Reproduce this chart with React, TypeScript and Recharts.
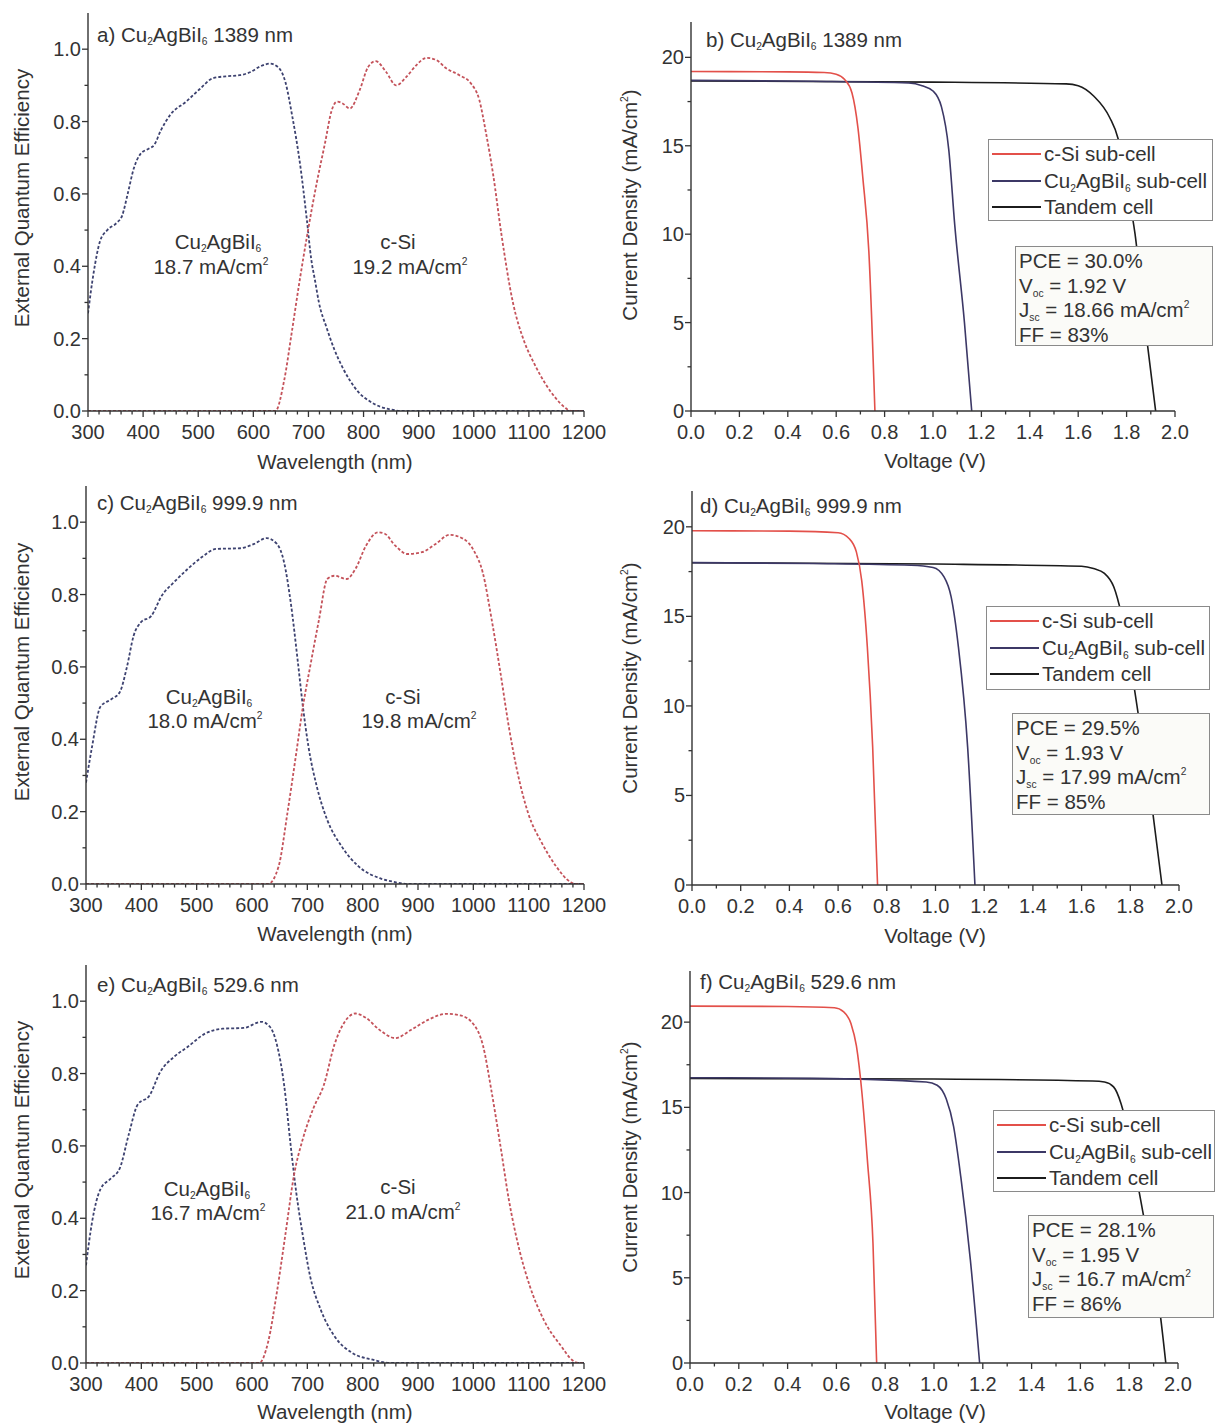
import React from "react";
import { LineChart, Line, XAxis, YAxis, Legend } from "recharts";

const FONT = '"Liberation Sans", Arial, Helvetica, sans-serif';
const TEXT = "#333";
const AXIS = "#333";
const FS = 20.5;
const TICK_FS = 20;

const EQE_BLUE = "#3d4270";
const EQE_RED = "#c4525a";
const CSI_RED = "#e3504a";
const CU_NAVY = "#3c3866";
const TANDEM = "#1c1c1c";

// ---- tick values ----
const wlMajor = [300, 400, 500, 600, 700, 800, 900, 1000, 1100, 1200];
const eqeMajor = [0, 0.2, 0.4, 0.6, 0.8, 1.0];
const vMajor = [0, 0.2, 0.4, 0.6, 0.8, 1.0, 1.2, 1.4, 1.6, 1.8, 2.0];
const jMajor = [0, 5, 10, 15, 20];

// ---- a) EQE, Cu2AgBiI6 1389 nm ----
const aCuWl = [300, 310, 322, 335, 352, 362, 372, 383, 395, 410, 420, 432, 450, 478, 503, 527, 550, 575, 595, 612, 630, 645, 658, 670, 685, 697, 705, 712, 719, 733, 747, 762, 775, 792, 810, 830, 850, 870, 1200];
const aCuEqe = [0.27, 0.38, 0.47, 0.5, 0.52, 0.54, 0.6, 0.67, 0.71, 0.725, 0.735, 0.775, 0.82, 0.855, 0.89, 0.92, 0.925, 0.928, 0.937, 0.952, 0.96, 0.95, 0.91, 0.82, 0.68, 0.53, 0.42, 0.36, 0.3, 0.23, 0.17, 0.12, 0.085, 0.05, 0.028, 0.012, 0.004, 0, 0];
const aSiWl = [300, 640, 656, 670, 684, 697, 715, 730, 742, 752, 762, 775, 793, 808, 822, 841, 859, 878, 896, 914, 932, 950, 974, 995, 1010, 1022, 1035, 1050, 1071, 1092, 1110, 1130, 1149, 1165, 1177, 1200];
const aSiEqe = [0, 0, 0.085, 0.22, 0.36, 0.48, 0.63, 0.74, 0.83, 0.855, 0.85, 0.836, 0.887, 0.95, 0.967, 0.937, 0.9, 0.924, 0.956, 0.976, 0.97, 0.947, 0.928, 0.905, 0.86, 0.77, 0.655, 0.49, 0.3, 0.19, 0.13, 0.075, 0.035, 0.01, 0, 0];

// ---- c) EQE, Cu2AgBiI6 999.9 nm ----
const cCuWl = [300, 311, 326, 345, 361, 374, 386, 399, 418, 437, 459, 484, 509, 535, 579, 604, 626, 645, 658, 670, 683, 692, 702, 717, 736, 762, 793, 831, 856, 881, 1200];
const cCuEqe = [0.28, 0.38, 0.49, 0.51, 0.53, 0.6, 0.686, 0.723, 0.741, 0.797, 0.834, 0.871, 0.903, 0.926, 0.928, 0.94, 0.956, 0.94, 0.889, 0.778, 0.612, 0.49, 0.38, 0.27, 0.177, 0.104, 0.048, 0.016, 0.006, 0, 0];
const cSiWl = [300, 629, 648, 664, 680, 692, 705, 721, 736, 749, 771, 787, 806, 828, 840, 859, 881, 907, 932, 957, 982, 1001, 1017, 1033, 1049, 1064, 1080, 1099, 1124, 1150, 1175, 1184, 1200];
const cSiEqe = [0, 0, 0.048, 0.196, 0.362, 0.49, 0.6, 0.73, 0.843, 0.852, 0.843, 0.871, 0.935, 0.972, 0.968, 0.935, 0.912, 0.917, 0.94, 0.965, 0.954, 0.921, 0.861, 0.732, 0.584, 0.436, 0.307, 0.196, 0.113, 0.048, 0.006, 0, 0];

// ---- e) EQE, Cu2AgBiI6 529.6 nm ----
const eCuWl = [300, 311, 326, 345, 361, 377, 393, 415, 434, 459, 484, 516, 547, 585, 617, 632, 645, 658, 670, 680, 692, 705, 724, 749, 781, 818, 850, 1200];
const eCuEqe = [0.27, 0.39, 0.48, 0.51, 0.538, 0.63, 0.713, 0.74, 0.804, 0.846, 0.874, 0.911, 0.924, 0.926, 0.943, 0.93, 0.88, 0.769, 0.6, 0.471, 0.351, 0.24, 0.148, 0.074, 0.028, 0.009, 0, 0];
const eSiWl = [300, 613, 629, 645, 661, 676, 692, 711, 730, 749, 768, 787, 806, 831, 859, 888, 919, 951, 976, 1001, 1017, 1033, 1049, 1064, 1083, 1102, 1127, 1159, 1178, 1190, 1200];
const eSiEqe = [0, 0, 0.057, 0.196, 0.362, 0.52, 0.62, 0.704, 0.769, 0.88, 0.944, 0.966, 0.954, 0.92, 0.898, 0.921, 0.949, 0.965, 0.961, 0.935, 0.88, 0.75, 0.6, 0.453, 0.314, 0.213, 0.12, 0.046, 0.009, 0, 0];

// ---- b) J-V, 1389 nm ----
const bSiV = [0, 0.4, 0.55, 0.6, 0.635, 0.665, 0.69, 0.71, 0.735, 0.76];
const bSiJ = [19.2, 19.18, 19.14, 19.05, 18.75, 18.0, 16.0, 13.2, 9.0, 0];
const bCuV = [0, 0.5, 0.9, 0.955, 1.0, 1.035, 1.065, 1.09, 1.13, 1.16];
const bCuJ = [18.7, 18.65, 18.55, 18.4, 18.1, 17.2, 14.8, 10.5, 5.0, 0];
const bTaV = [0, 1.0, 1.55, 1.6, 1.665, 1.73, 1.765, 1.8, 1.835, 1.875, 1.92];
const bTaJ = [18.66, 18.6, 18.5, 18.4, 17.8, 16.6, 15.4, 12.8, 10.0, 5.0, 0];

// ---- d) J-V, 999.9 nm ----
const dSiV = [0, 0.4, 0.6, 0.645, 0.675, 0.697, 0.72, 0.742, 0.762];
const dSiJ = [19.78, 19.76, 19.67, 19.35, 18.6, 17.0, 13.3, 7.7, 0];
const dCuV = [0, 0.5, 0.9, 0.99, 1.035, 1.064, 1.094, 1.132, 1.162];
const dCuJ = [18.0, 17.95, 17.85, 17.73, 17.2, 16.1, 13.3, 7.7, 0];
const dTaV = [0, 1.0, 1.6, 1.649, 1.694, 1.732, 1.762, 1.8, 1.844, 1.889, 1.93];
const dTaJ = [17.99, 17.92, 17.8, 17.67, 17.4, 16.65, 15.2, 12.4, 8.5, 4.4, 0];

// ---- f) J-V, 529.6 nm ----
const fSiV = [0, 0.4, 0.592, 0.63, 0.66, 0.682, 0.705, 0.727, 0.75, 0.765];
const fSiJ = [20.94, 20.92, 20.84, 20.6, 19.9, 18.6, 15.8, 11.9, 7.0, 0];
const fCuV = [0, 0.5, 0.968, 1.013, 1.05, 1.08, 1.11, 1.149, 1.187];
const fCuJ = [16.74, 16.7, 16.49, 16.3, 15.5, 13.9, 10.9, 6.05, 0];
const fTaV = [0, 1.0, 1.65, 1.699, 1.736, 1.767, 1.797, 1.842, 1.887, 1.925, 1.95];
const fTaJ = [16.7, 16.66, 16.55, 16.49, 16.2, 15.2, 13.46, 9.95, 6.4, 3.1, 0];

const zip = (xs: number[], ys: number[]) => xs.map((x, i) => ({ x, y: ys[i] }));

// major ticks plus n-1 minor ticks in each gap
function withMinors(major: number[], n: number) {
  const out: number[] = [];
  for (let i = 0; i < major.length - 1; i++) {
    for (let k = 0; k < n; k++) out.push(+(major[i] + ((major[i + 1] - major[i]) * k) / n).toFixed(4));
  }
  out.push(major[major.length - 1]);
  return out;
}
const isMajor = (v: number, major: number[]) => major.some((m) => Math.abs(m - v) < 1e-6);

const Sub = ({ c }: { c: string }) => (
  <span style={{ fontSize: "0.5em", verticalAlign: "-0.35em", lineHeight: 0 }}>{c}</span>
);
const Sup = ({ c }: { c: string }) => (
  <span style={{ fontSize: "0.5em", verticalAlign: "0.9em", lineHeight: 0 }}>{c}</span>
);
const CuName = () => (
  <>
    Cu<Sub c="2" />AgBiI<Sub c="6" />
  </>
);
const MAcm = () => (
  <>
    mA/cm<Sup c="2" />
  </>
);

const XTick = (p: any) => {
  const maj = isMajor(p.payload.value, p.major);
  return (
    <g>
      <line x1={p.x} y1={p.y} x2={p.x} y2={p.y + (maj ? 6 : 3.5)} stroke={AXIS} strokeWidth={1.3} />
      {maj && (
        <text x={p.x} y={p.y + 28} textAnchor="middle" fontSize={TICK_FS} fill={TEXT} fontFamily={FONT}>
          {p.fmt(p.payload.value)}
        </text>
      )}
    </g>
  );
};

const YTick = (p: any) => {
  const maj = isMajor(p.payload.value, p.major);
  return (
    <g>
      <line x1={p.x} y1={p.y} x2={p.x - (maj ? 6 : 3.5)} y2={p.y} stroke={AXIS} strokeWidth={1.3} />
      {maj && (
        <text x={p.x - 7} y={p.y + 7} textAnchor="end" fontSize={TICK_FS} fill={TEXT} fontFamily={FONT}>
          {p.fmt(p.payload.value)}
        </text>
      )}
    </g>
  );
};

type Series = { name: string; pts: { x: number; y: number }[]; color: string; dash?: string; width: number };
type Box = { left: number; top: number; w: number; h: number };

const LegendBox = ({ box, items }: { box: Box; items: { color: string; label: React.ReactNode }[] }) => (
  <div
    style={{
      width: box.w,
      height: box.h,
      boxSizing: "border-box",
      border: "1px solid #8a8a8a",
      background: "#fff",
      paddingTop: 1,
      fontFamily: FONT,
      fontSize: FS,
      color: TEXT,
      overflow: "hidden",
    }}
  >
    {items.map((it, i) => (
      <div key={i} style={{ display: "flex", alignItems: "center", height: 26.5, whiteSpace: "nowrap" }}>
        <svg width={52} height={4} style={{ marginLeft: 3, flexShrink: 0 }}>
          <line x1={0} y1={2} x2={49} y2={2} stroke={it.color} strokeWidth={2} />
        </svg>
        <span>{it.label}</span>
      </div>
    ))}
  </div>
);

function Panel(props: {
  x0: number; x1: number; y0: number; y1: number;
  xDomain: [number, number]; yDomain: [number, number];
  xTicks: number[]; xMajor: number[]; yTicks: number[]; yMajor: number[];
  fx: (v: number) => string; fy: (v: number) => string;
  series: Series[]; rightPad: number; legend?: Box;
}) {
  const { x0, x1, y0, y1, rightPad, legend } = props;
  const ml = 90;
  const mt = 10;
  const xh = 60;
  const w = x1 - x0 + ml + rightPad;
  const h = y1 - y0 + mt + xh;
  const cl = x0 - ml;
  const ct = y0 - mt;
  return (
    <div style={{ position: "absolute", left: cl, top: ct }}>
      <LineChart width={w} height={h} margin={{ top: mt, right: rightPad, bottom: 0, left: 0 }}>
        <XAxis
          type="number"
          dataKey="x"
          domain={props.xDomain}
          allowDataOverflow
          ticks={props.xTicks}
          interval={0}
          height={xh}
          tickSize={0}
          tickMargin={0}
          tickLine={false}
          axisLine={{ stroke: AXIS, strokeWidth: 1.4 }}
          tick={(p: any) => <XTick {...p} major={props.xMajor} fmt={props.fx} />}
        />
        <YAxis
          type="number"
          domain={props.yDomain}
          allowDataOverflow
          ticks={props.yTicks}
          interval={0}
          width={ml}
          tickSize={0}
          tickMargin={0}
          tickLine={false}
          axisLine={{ stroke: AXIS, strokeWidth: 1.4 }}
          tick={(p: any) => <YTick {...p} major={props.yMajor} fmt={props.fy} />}
        />
        {props.series.map((s) => (
          <Line
            key={s.name}
            data={s.pts}
            dataKey="y"
            name={s.name}
            type="monotone"
            stroke={s.color}
            strokeWidth={s.width}
            strokeDasharray={s.dash}
            dot={false}
            activeDot={false}
            isAnimationActive={false}
          />
        ))}
        {legend && (
          <Legend
            layout="vertical"
            align="center"
            verticalAlign="middle"
            wrapperStyle={{ left: legend.left - cl, top: legend.top - ct, width: legend.w, height: legend.h }}
            content={() => (
              <LegendBox
                box={legend}
                items={[
                  { color: CSI_RED, label: "c-Si sub-cell" },
                  { color: CU_NAVY, label: (<><CuName /> sub-cell</>) },
                  { color: TANDEM, label: "Tandem cell" },
                ]}
              />
            )}
          />
        )}
      </LineChart>
    </div>
  );
}

const At = ({ x, y, children, center = false, rotate = false, size = FS }: any) => (
  <div
    style={{
      position: "absolute",
      left: x,
      top: y,
      transform: `translate(${center ? "-50%" : "0"}, -50%)${rotate ? " rotate(-90deg)" : ""}`,
      whiteSpace: "nowrap",
      fontFamily: FONT,
      fontSize: size,
      color: TEXT,
      lineHeight: 1,
    }}
  >
    {children}
  </div>
);

const StatsBox = ({ box, lines }: { box: Box; lines: React.ReactNode[] }) => (
  <div
    style={{
      position: "absolute",
      left: box.left,
      top: box.top,
      width: box.w,
      height: box.h,
      boxSizing: "border-box",
      border: "1px solid #8a8a8a",
      background: "#fbfbf8",
      paddingTop: 2,
      paddingLeft: 3,
      fontFamily: FONT,
      fontSize: FS,
      color: TEXT,
      overflow: "hidden",
    }}
  >
    {lines.map((l, i) => (
      <div key={i} style={{ height: 24.6, lineHeight: "24.6px", whiteSpace: "nowrap" }}>
        {l}
      </div>
    ))}
  </div>
);

const wlTicks = withMinors(wlMajor, 5);
const eqeTicks = withMinors(eqeMajor, 2);
const vTicks = withMinors(vMajor, 2);
const jTicks = withMinors(jMajor, 2);
const f0 = (v: number) => String(Math.round(v));
const f1 = (v: number) => v.toFixed(1);

function EqePanel({ x0, y0, y1, cu, si }: { x0: number; y0: number; y1: number; cu: any[]; si: any[] }) {
  return (
    <Panel
      x0={x0} x1={584} y0={y0} y1={y1}
      xDomain={[300, 1200]} yDomain={[0, 1.1]}
      xTicks={wlTicks} xMajor={wlMajor} yTicks={eqeTicks} yMajor={eqeMajor}
      fx={f0} fy={f1} rightPad={36}
      series={[
        { name: "Cu2AgBiI6", pts: cu, color: EQE_BLUE, dash: "3 2", width: 1.8 },
        { name: "c-Si", pts: si, color: EQE_RED, dash: "3 2", width: 1.8 },
      ]}
    />
  );
}

function JvPanel(p: { x0: number; x1: number; y0: number; y1: number; ymax: number; si: any[]; cu: any[]; ta: any[]; legend: Box }) {
  return (
    <Panel
      x0={p.x0} x1={p.x1} y0={p.y0} y1={p.y1}
      xDomain={[0, 2]} yDomain={[0, p.ymax]}
      xTicks={vTicks} xMajor={vMajor} yTicks={jTicks} yMajor={jMajor}
      fx={f1} fy={f0} rightPad={1215 - p.x1}
      legend={p.legend}
      series={[
        { name: "Tandem cell", pts: p.ta, color: TANDEM, width: 1.6 },
        { name: "Cu2AgBiI6 sub-cell", pts: p.cu, color: CU_NAVY, width: 1.6 },
        { name: "c-Si sub-cell", pts: p.si, color: CSI_RED, width: 1.6 },
      ]}
    />
  );
}

const Title = ({ x, y, tag, wl }: { x: number; y: number; tag: string; wl: string }) => (
  <At x={x} y={y}>
    {tag}) <CuName /> {wl} nm
  </At>
);

const stats = (pce: string, voc: string, jsc: string, ff: string) => [
  <>PCE = {pce}%</>,
  <>V<Sub c="oc" /> = {voc} V</>,
  <>J<Sub c="sc" /> = {jsc} <MAcm /></>,
  <>FF = {ff}%</>,
];

export default function App() {
  return (
    <div style={{ position: "absolute", left: 0, top: 0, width: 1215, height: 1425, background: "#fff", overflow: "hidden" }}>
      <EqePanel x0={88} y0={13} y1={411} cu={zip(aCuWl, aCuEqe)} si={zip(aSiWl, aSiEqe)} />
      <EqePanel x0={86} y0={486} y1={884} cu={zip(cCuWl, cCuEqe)} si={zip(cSiWl, cSiEqe)} />
      <EqePanel x0={86} y0={965} y1={1363} cu={zip(eCuWl, eCuEqe)} si={zip(eSiWl, eSiEqe)} />

      <JvPanel x0={691} x1={1175} y0={22} y1={411} ymax={22}
        si={zip(bSiV, bSiJ)} cu={zip(bCuV, bCuJ)} ta={zip(bTaV, bTaJ)}
        legend={{ left: 988, top: 139, w: 225, h: 82 }} />
      <JvPanel x0={692} x1={1179} y0={491} y1={885} ymax={22}
        si={zip(dSiV, dSiJ)} cu={zip(dCuV, dCuJ)} ta={zip(dTaV, dTaJ)}
        legend={{ left: 986, top: 606, w: 224, h: 84 }} />
      <JvPanel x0={690} x1={1178} y0={971} y1={1363} ymax={23}
        si={zip(fSiV, fSiJ)} cu={zip(fCuV, fCuJ)} ta={zip(fTaV, fTaJ)}
        legend={{ left: 993, top: 1110, w: 222, h: 82 }} />

      <StatsBox box={{ left: 1015, top: 246, w: 198, h: 100 }} lines={stats("30.0", "1.92", "18.66", "83")} />
      <StatsBox box={{ left: 1012, top: 713, w: 198, h: 102 }} lines={stats("29.5", "1.93", "17.99", "85")} />
      <StatsBox box={{ left: 1028, top: 1215, w: 186, h: 103 }} lines={stats("28.1", "1.95", "16.7", "86")} />

      <Title x={97} y={35} tag="a" wl="1389" />
      <Title x={706} y={40} tag="b" wl="1389" />
      <Title x={97} y={503} tag="c" wl="999.9" />
      <Title x={700} y={506} tag="d" wl="999.9" />
      <Title x={97} y={985} tag="e" wl="529.6" />
      <Title x={700} y={982} tag="f" wl="529.6" />

      {/* in-plot labels */}
      <At x={218} y={242} center><CuName /></At>
      <At x={211} y={267} center>18.7 <MAcm /></At>
      <At x={398} y={242} center>c-Si</At>
      <At x={410} y={267} center>19.2 <MAcm /></At>

      <At x={209} y={697} center><CuName /></At>
      <At x={205} y={721} center>18.0 <MAcm /></At>
      <At x={403} y={697} center>c-Si</At>
      <At x={419} y={721} center>19.8 <MAcm /></At>

      <At x={207} y={1189} center><CuName /></At>
      <At x={208} y={1213} center>16.7 <MAcm /></At>
      <At x={398} y={1187} center>c-Si</At>
      <At x={403} y={1212} center>21.0 <MAcm /></At>

      {/* axis titles */}
      <At x={335} y={462} center>Wavelength (nm)</At>
      <At x={335} y={934} center>Wavelength (nm)</At>
      <At x={335} y={1412} center>Wavelength (nm)</At>
      <At x={935} y={461} center>Voltage (V)</At>
      <At x={935} y={936} center>Voltage (V)</At>
      <At x={935} y={1412} center>Voltage (V)</At>
      <At x={22} y={198} center rotate>External Quantum Efficiency</At>
      <At x={22} y={672} center rotate>External Quantum Efficiency</At>
      <At x={22} y={1150} center rotate>External Quantum Efficiency</At>
      <At x={630} y={205} center rotate>Current Density (<MAcm />)</At>
      <At x={630} y={678} center rotate>Current Density (<MAcm />)</At>
      <At x={630} y={1157} center rotate>Current Density (<MAcm />)</At>
    </div>
  );
}
